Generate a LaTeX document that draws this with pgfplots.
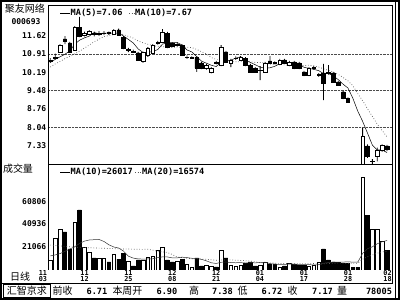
\documentclass[border=0pt]{standalone}
\usepackage{pgfplots}
\pgfplotsset{compat=1.18}
\usepackage{pgfplotstable}
\usepackage{fontspec}
\setmainfont{DejaVu Sans}
\newfontfamily\cjk{Noto Sans CJK SC}
\newfontfamily\mono{DejaVu Sans Mono}
\newcommand{\lab}{\mono\bfseries\fontsize{8}{8}\selectfont}
\newcommand{\leg}{\mono\bfseries\fontsize{8.6}{8.6}\selectfont}
\newcommand{\dat}{\mono\bfseries\fontsize{6.8}{6.8}\selectfont}
\newcommand{\zh}{\cjk\fontsize{10}{10}\selectfont}

\pgfplotstableread{
i o c h l v
0 10.64 10.68 10.75 10.56 8850
1 10.75 10.80 10.92 10.70 28300
2 10.99 11.26 11.30 10.95 36200
5 11.07 11.96 12.00 11.03 42400
7 11.65 11.70 11.78 11.60 20300
8 11.69 11.80 11.84 11.65 15900
10 11.66 11.72 11.80 11.62 10600
11 11.70 11.73 11.80 11.65 10600
13 11.69 11.84 11.88 11.66 14100
16 11.05 11.08 11.15 10.98 8000
19 10.61 10.96 11.00 10.56 8850
20 10.87 11.14 11.18 10.80 11500
21 10.95 11.26 11.30 10.91 12400
22 11.32 11.36 11.42 11.28 17700
23 11.38 11.77 11.88 11.34 20300
26 11.24 11.27 11.34 11.20 8000
28 10.78 10.80 10.86 10.72 5300
29 10.75 10.77 10.82 10.72 2700
32 10.36 10.48 10.52 10.30 4400
33 10.21 10.36 10.40 10.15 3550
35 10.48 11.18 11.26 10.44 17700
37 10.56 10.68 10.72 10.40 4400
38 10.74 10.76 10.82 10.68 3550
39 10.68 10.79 10.83 10.64 4400
43 10.27 10.29 10.44 9.89 4400
44 10.21 10.56 10.60 10.17 7100
47 10.52 10.68 10.72 10.48 2700
49 10.48 10.60 10.64 10.44 6200
53 10.09 10.36 10.40 10.05 3550
54 10.35 10.38 10.44 10.30 4400
55 10.08 10.10 10.16 10.02 7100
64 6.60 7.68 8.02 6.60 81800
66 6.70 6.71 6.80 6.62 35900
67 6.90 7.15 7.25 6.72 35500
68 7.15 7.36 7.38 7.10 25000
}\up

\pgfplotstableread{
i o c h l v
3 11.50 11.42 11.61 11.30 33600
4 11.34 10.99 11.38 10.95 18600
6 11.96 11.61 12.36 11.57 53000
9 11.72 11.68 11.78 11.60 10600
12 11.74 11.70 11.78 11.66 7100
14 11.85 11.65 11.90 11.62 9700
15 11.57 11.14 11.62 11.10 15000
17 11.02 10.99 11.08 10.95 3550
18 10.95 10.68 10.99 10.64 8850
24 11.73 11.18 11.77 11.14 8850
25 11.32 11.22 11.36 11.18 7100
27 11.26 10.87 11.30 10.84 9700
30 10.79 10.36 10.83 10.21 10600
31 10.56 10.36 10.60 10.32 3550
34 10.58 10.55 10.64 10.50 2700
36 10.99 10.60 11.03 10.56 10600
40 10.75 10.48 10.79 10.44 6200
41 10.48 10.21 10.52 10.17 7100
42 10.36 10.21 10.40 10.17 3550
45 10.64 10.56 10.83 10.52 5300
46 10.58 10.55 10.62 10.50 5300
48 10.68 10.56 10.72 10.52 3550
50 10.60 10.36 10.64 10.32 5300
51 10.56 10.36 10.60 10.32 4400
52 10.21 10.09 10.25 10.05 4000
56 10.17 9.78 10.52 9.11 18600
57 10.18 10.15 10.48 10.10 8850
58 10.17 9.82 10.21 9.78 7100
59 9.82 9.70 9.86 9.66 6800
60 9.43 9.19 9.47 9.15 5500
61 9.19 9.04 9.22 9.02 5500
62 8.14 8.14 8.14 8.14 2500
63 7.33 7.33 7.33 7.33 2500
65 7.32 6.91 7.38 6.85 48500
69 7.32 7.17 7.36 7.12 17500
}\dn

\pgfplotstableread{
i m5 m10 a b
0 10.58 10.40 12400 22000
1 10.70 10.52 13300 21600
2 10.80 10.62 14500 21200
3 10.90 10.73 16500 20800
4 11.03 10.82 18500 20500
5 11.29 10.92 20500 20300
6 11.45 11.02 23500 20000
7 11.54 11.14 25500 19800
8 11.61 11.26 26500 19700
9 11.75 11.39 26775 19500
10 11.70 11.49 26950 19300
11 11.73 11.59 25180 19200
12 11.73 11.63 22270 19000
13 11.73 11.67 20320 18900
14 11.73 11.74 19430 18700
15 11.61 11.66 16690 18600
16 11.48 11.60 12190 18500
17 11.34 11.53 10515 18400
18 11.11 11.42 9810 18300
19 10.97 11.35 9635 18205
20 10.97 11.29 9725 18338
21 11.01 11.24 9905 17543
22 11.08 11.21 10965 16618
23 11.30 11.20 11585 15953
24 11.34 11.16 11500 15465
25 11.36 11.16 10710 13700
26 11.36 11.18 10710 11450
27 11.26 11.17 11325 10920
28 11.07 11.18 10970 10390
29 10.99 11.16 10355 9995
30 10.81 11.09 10265 9995
31 10.63 11.00 9380 9643
32 10.55 10.91 8050 9508
33 10.47 10.77 6375 8980
34 10.42 10.70 5760 8630
35 10.59 10.70 6820 8765
36 10.63 10.63 7080 8895
37 10.67 10.61 6550 8938
38 10.75 10.61 6375 8673
39 10.80 10.61 6545 8450
40 10.66 10.62 6105 8185
41 10.58 10.61 6460 7920
42 10.49 10.58 6375 7213
43 10.40 10.58 6460 6418
44 10.35 10.58 6900 6330
45 10.37 10.51 5660 6240
46 10.43 10.51 5130 6105
47 10.53 10.51 4960 5755
48 10.58 10.49 4960 5668
49 10.59 10.47 5140 5843
50 10.55 10.46 5050 5578
51 10.51 10.47 4780 5620
52 10.39 10.46 4825 5600
53 10.35 10.47 4740 5600
54 10.31 10.45 4470 5685
55 10.26 10.40 4650 5155
56 10.14 10.33 5980 5555
57 10.15 10.27 6595 5778
58 10.05 10.20 6950 5955
59 9.91 10.11 7010 6075
60 9.73 9.99 7030 6040
61 9.58 9.86 7140 5960
62 9.18 9.67 6990 5908
63 8.68 9.36 6885 5813
64 8.28 9.09 14625 9548
65 7.82 8.77 18765 11708
66 7.35 8.47 20495 13238
67 7.16 8.17 23160 14878
68 7.16 7.92 24950 15950
69 7.06 7.67 26020 16515
}\ma

\pgfplotsset{
 pax/.style={at={(48pt,135pt)}, anchor=south west, scale only axis, width=344.5pt, height=160pt,
   xmin=-0.47, xmax=70.12, ymin=6.574, ymax=12.824},
 vax/.style={at={(48pt,30pt)}, anchor=south west, scale only axis, width=344.5pt, height=105pt,
   xmin=-0.47, xmax=70.12, ymin=0, ymax=92715},
}

\begin{document}
\begin{tikzpicture}[x=1pt,y=1pt]
\useasboundingbox (0,0) rectangle (400,300);
\fill[white] (0,0) rectangle (400,300);

% ---- price panel: ticks, grid, MAs
\begin{axis}[pax, axis line style={draw=none}, xtick=\empty,
  ytick={7.33,8.04,8.76,9.48,10.19,10.91,11.62},
  yticklabels={7.33,8.04,8.76,9.48,10.19,10.91,11.62},
  major tick length=0pt, tick style={draw=none},
  yticklabel style={font=\lab, inner sep=0pt, anchor=east, xshift=-1.5pt},
  extra y ticks={8.04,9.48,10.91}, extra y tick labels={},
  extra y tick style={grid=major},
  major grid style={black!70, densely dotted, line width=0.6pt}]
\addplot[black!65, dotted, line width=0.7pt] table[x=i,y=m10] {\ma};
\addplot[black, line width=0.5pt] table[x=i,y=m5] {\ma};
\end{axis}

% wicks
\begin{axis}[pax, hide axis, ybar stacked, bar width=0.8pt]
\addplot[draw=none, fill=none] table[x=i,y=l] {\up};
\addplot[draw=none, fill=black] table[x=i,y expr=\thisrow{h}-\thisrow{l}] {\up};
\end{axis}
\begin{axis}[pax, hide axis, ybar stacked, bar width=0.8pt]
\addplot[draw=none, fill=none] table[x=i,y=l] {\dn};
\addplot[draw=none, fill=black] table[x=i,y expr=\thisrow{h}-\thisrow{l}] {\dn};
\end{axis}
% bodies
\begin{axis}[pax, hide axis, ybar stacked, bar width=3.6pt]
\addplot[draw=none, fill=none] table[x=i,y=o] {\up};
\addplot[draw=black, fill=white, line width=0.6pt] table[x=i,y expr=\thisrow{c}-\thisrow{o}] {\up};
\end{axis}
\begin{axis}[pax, hide axis, ybar stacked, bar width=3.6pt]
\addplot[draw=none, fill=none] table[x=i,y=c] {\dn};
\addplot[draw=black, fill=black, line width=0.6pt] table[x=i,y expr=\thisrow{o}-\thisrow{c}] {\dn};
\end{axis}

% ---- volume panel
\begin{axis}[vax, axis line style={draw=none}, xtick=\empty,
  ytick={21066,40936,60806}, yticklabels={21066,40936,60806},
  scaled y ticks=false,
  major tick length=0pt, tick style={draw=none},
  yticklabel style={font=\lab, inner sep=0pt, anchor=east, xshift=-1.5pt}]
\addplot[ybar, bar width=3.6pt, bar shift=0pt, draw=black, fill=white, line width=0.6pt] table[x=i,y=v] {\up};
\addplot[ybar, bar width=3.6pt, bar shift=0pt, draw=black, fill=black, line width=0.6pt] table[x=i,y=v] {\dn};
\addplot[black!65, dotted, line width=0.7pt] table[x=i,y=b] {\ma};
\addplot[black!80, line width=0.5pt] table[x=i,y=a] {\ma};
\end{axis}

% ---- frame
\draw[line width=1.6pt] (0.8,0.8) rectangle (399.2,299.2);
\draw[line width=0.8pt] (395.8,1.5) -- (395.8,298.5);
\draw[line width=0.8pt] (48,295) -- (392.5,295);
\draw[line width=1pt] (48,295) -- (48,30);
\draw[line width=1pt] (392.5,295) -- (392.5,16);
\draw[line width=1pt] (48,135) -- (392.5,135);
\draw[line width=1pt] (0,16) -- (392.5,16);
\draw[line width=0.8pt] (3,2.5) rectangle (50.5,15.5);

% ---- texts
\node[font=\zh, inner sep=0pt] at (25,291.5) {聚友网络};
\node[font=\lab, inner sep=0pt] at (26,278.5) {000693};
\node[font=\zh, inner sep=0pt] at (18,131) {成交量};
\node[font=\zh, inner sep=0pt] at (20,23) {日线};

\draw[black, line width=0.6pt] (60,287) -- (70,287);
\node[font=\leg, anchor=west, inner sep=0pt] at (70.5,287) {MA(5)=7.06};
\draw[black!65, dotted, line width=0.7pt] (129,287) -- (135,287);
\node[font=\leg, anchor=west, inner sep=0pt] at (135,287) {MA(10)=7.67};

\draw[black, line width=0.6pt] (60,128) -- (70,128);
\node[font=\leg, anchor=west, inner sep=0pt] at (70.5,128) {MA(10)=26017};
\draw[black!65, dotted, line width=0.7pt] (135,128) -- (142,128);
\node[font=\leg, anchor=west, inner sep=0pt] at (142,128) {MA(20)=16574};

\foreach \xx/\a/\b in {43/11/03, 84.5/11/12, 128.4/11/25, 172.3/12/08, 216.2/12/21, 260/01/04, 304/01/17, 348/01/28, 387.5/02/18}
  {\node[font=\dat, inner sep=0pt, align=center] at (\xx,24) {\a\\[-0.8pt]\b};}

\node[font=\zh, inner sep=0pt] at (26.8,9) {汇智京求};
\node[font=\zh, inner sep=0pt] at (62.5,9) {前收};
\node[font=\leg, inner sep=0pt] at (97,9) {6.71};
\node[font=\zh, inner sep=0pt] at (127.5,9) {本周开};
\node[font=\leg, inner sep=0pt] at (167,9) {6.90};
\node[font=\zh, inner sep=0pt] at (194,9) {高};
\node[font=\leg, inner sep=0pt] at (222.5,9) {7.38};
\node[font=\zh, inner sep=0pt] at (242.5,9) {低};
\node[font=\leg, inner sep=0pt] at (272,9) {6.72};
\node[font=\zh, inner sep=0pt] at (292.5,9) {收};
\node[font=\leg, inner sep=0pt] at (322.5,9) {7.17};
\node[font=\zh, inner sep=0pt] at (342,9) {量};
\node[font=\leg, inner sep=0pt] at (379,9) {78005};
\end{tikzpicture}
\end{document}
